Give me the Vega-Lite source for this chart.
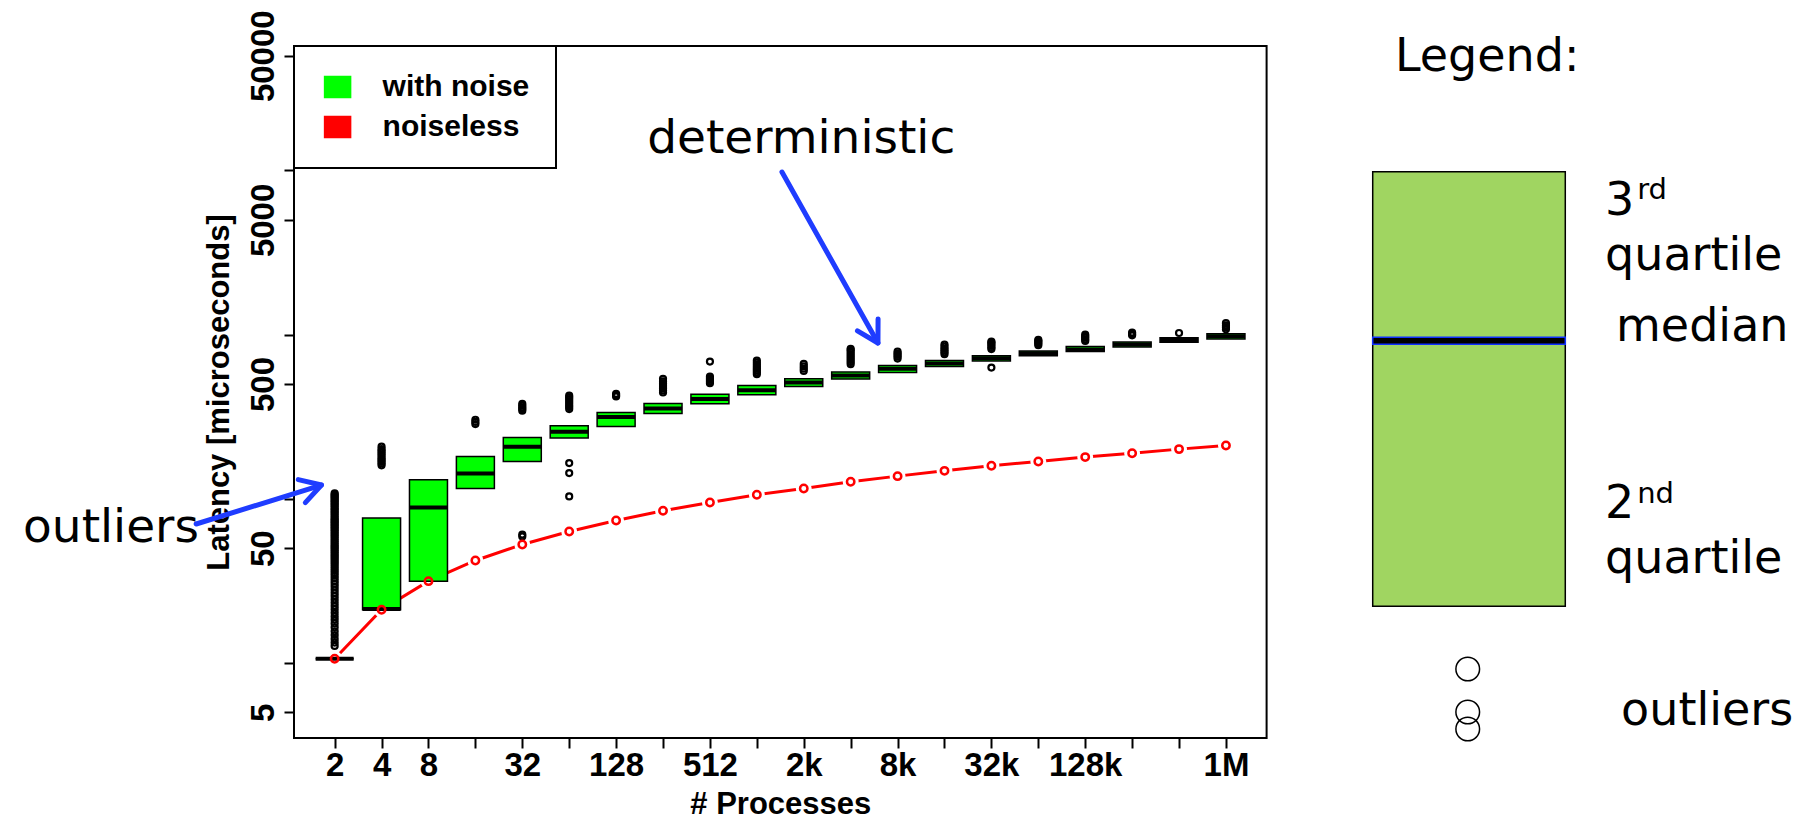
{
  "$schema": "https://vega.github.io/schema/vega-lite/v6.json",
  "width": 972.6,
  "height": 692,
  "autosize": {"type": "none"},
  "padding": {"left": 294, "top": 46, "right": 551.4, "bottom": 83},
  "background": "white",
  "config": {
    "view": {"stroke": "black", "strokeWidth": 2},
    "axis": {
      "domain": false, "grid": false, "ticks": true, "tickColor": "black", "tickSize": 10, "tickWidth": 2,
      "labelColor": "black", "labelFont": "Liberation Sans", "labelFontWeight": "bold", "labelFontSize": 33,
      "titleColor": "black", "titleFont": "Liberation Sans", "titleFontWeight": "bold", "titleFontSize": 31,
      "labelOverlap": false, "labelFlush": false, "labelBound": false
    }
  },
  "datasets": {
    "boxes": [
      {"procs": 2, "q1": 10.6, "median": 10.6, "q3": 10.6},
      {"procs": 4, "q1": 21.1, "median": 21.3, "q3": 76.3},
      {"procs": 8, "q1": 31.4, "median": 88.5, "q3": 130.6},
      {"procs": 16, "q1": 115.6, "median": 142.6, "q3": 181},
      {"procs": 32, "q1": 168.8, "median": 207.4, "q3": 236},
      {"procs": 64, "q1": 234.2, "median": 255.8, "q3": 278.3},
      {"procs": 128, "q1": 275.6, "median": 314.4, "q3": 335.4},
      {"procs": 256, "q1": 330.7, "median": 354.8, "q3": 380},
      {"procs": 512, "q1": 379, "median": 406, "q3": 434},
      {"procs": 1024, "q1": 430, "median": 459, "q3": 489.6},
      {"procs": 2048, "q1": 483, "median": 511, "q3": 538},
      {"procs": 4096, "q1": 536, "median": 563, "q3": 593},
      {"procs": 8192, "q1": 588, "median": 618.7, "q3": 648},
      {"procs": 16384, "q1": 639, "median": 668, "q3": 695},
      {"procs": 32768, "q1": 692, "median": 717, "q3": 742.6},
      {"procs": 65536, "q1": 743, "median": 769, "q3": 796},
      {"procs": 131072, "q1": 788, "median": 813, "q3": 845.5},
      {"procs": 262144, "q1": 842, "median": 872, "q3": 903},
      {"procs": 524288, "q1": 899, "median": 929, "q3": 955.6},
      {"procs": 1048576, "q1": 942, "median": 976, "q3": 1011}
    ],
    "noiseless": [
      {"procs": 2, "latency": 10.6}, {"procs": 4, "latency": 21.1}, {"procs": 8, "latency": 31.5},
      {"procs": 16, "latency": 42.1}, {"procs": 32, "latency": 52.7}, {"procs": 64, "latency": 63.2},
      {"procs": 128, "latency": 73.8}, {"procs": 256, "latency": 84.5}, {"procs": 512, "latency": 95},
      {"procs": 1024, "latency": 105.8}, {"procs": 2048, "latency": 115.6}, {"procs": 4096, "latency": 127},
      {"procs": 8192, "latency": 137.4}, {"procs": 16384, "latency": 148}, {"procs": 32768, "latency": 159},
      {"procs": 65536, "latency": 168.8}, {"procs": 131072, "latency": 179.4}, {"procs": 262144, "latency": 189.6},
      {"procs": 524288, "latency": 200.7}, {"procs": 1048576, "latency": 211}
    ],
    "outliers": [
      {"procs": 2, "latency": 108}, {"procs": 2, "latency": 106}, {"procs": 2, "latency": 104}, {"procs": 2, "latency": 102}, {"procs": 2, "latency": 100},
      {"procs": 2, "latency": 98}, {"procs": 2, "latency": 96}, {"procs": 2, "latency": 94}, {"procs": 2, "latency": 92}, {"procs": 2, "latency": 90},
      {"procs": 2, "latency": 88}, {"procs": 2, "latency": 86}, {"procs": 2, "latency": 84}, {"procs": 2, "latency": 82}, {"procs": 2, "latency": 80},
      {"procs": 2, "latency": 78}, {"procs": 2, "latency": 76}, {"procs": 2, "latency": 74.5}, {"procs": 2, "latency": 73}, {"procs": 2, "latency": 71.5},
      {"procs": 2, "latency": 70}, {"procs": 2, "latency": 68.5}, {"procs": 2, "latency": 67}, {"procs": 2, "latency": 65.5}, {"procs": 2, "latency": 64},
      {"procs": 2, "latency": 62.5}, {"procs": 2, "latency": 61}, {"procs": 2, "latency": 59.5}, {"procs": 2, "latency": 58}, {"procs": 2, "latency": 56.5},
      {"procs": 2, "latency": 55}, {"procs": 2, "latency": 53.5}, {"procs": 2, "latency": 52}, {"procs": 2, "latency": 50.8}, {"procs": 2, "latency": 49.6},
      {"procs": 2, "latency": 48.4}, {"procs": 2, "latency": 47.2}, {"procs": 2, "latency": 46}, {"procs": 2, "latency": 44.8}, {"procs": 2, "latency": 43.6},
      {"procs": 2, "latency": 42.4}, {"procs": 2, "latency": 41.2}, {"procs": 2, "latency": 40}, {"procs": 2, "latency": 38.8}, {"procs": 2, "latency": 37.6},
      {"procs": 2, "latency": 36.4}, {"procs": 2, "latency": 35.2}, {"procs": 2, "latency": 34}, {"procs": 2, "latency": 32.8}, {"procs": 2, "latency": 31.6},
      {"procs": 2, "latency": 30.4}, {"procs": 2, "latency": 29.2}, {"procs": 2, "latency": 28}, {"procs": 2, "latency": 26.8}, {"procs": 2, "latency": 25.6},
      {"procs": 2, "latency": 24.4}, {"procs": 2, "latency": 23.3}, {"procs": 2, "latency": 22.2}, {"procs": 2, "latency": 21.2}, {"procs": 2, "latency": 20.2},
      {"procs": 2, "latency": 19.2}, {"procs": 2, "latency": 18.3}, {"procs": 2, "latency": 17.4}, {"procs": 2, "latency": 16.5}, {"procs": 2, "latency": 15.6},
      {"procs": 2, "latency": 14.8}, {"procs": 2, "latency": 14}, {"procs": 2, "latency": 13.3}, {"procs": 2, "latency": 12.7},
      {"procs": 4, "latency": 160}, {"procs": 4, "latency": 164}, {"procs": 4, "latency": 168}, {"procs": 4, "latency": 172}, {"procs": 4, "latency": 176},
      {"procs": 4, "latency": 181}, {"procs": 4, "latency": 186}, {"procs": 4, "latency": 191}, {"procs": 4, "latency": 196}, {"procs": 4, "latency": 201},
      {"procs": 4, "latency": 208},
      {"procs": 16, "latency": 285}, {"procs": 16, "latency": 294}, {"procs": 16, "latency": 303},
      {"procs": 32, "latency": 344}, {"procs": 32, "latency": 352}, {"procs": 32, "latency": 360}, {"procs": 32, "latency": 369}, {"procs": 32, "latency": 379},
      {"procs": 32, "latency": 59}, {"procs": 32, "latency": 60.5},
      {"procs": 64, "latency": 352}, {"procs": 64, "latency": 362}, {"procs": 64, "latency": 372}, {"procs": 64, "latency": 383}, {"procs": 64, "latency": 394},
      {"procs": 64, "latency": 405}, {"procs": 64, "latency": 415}, {"procs": 64, "latency": 425},
      {"procs": 64, "latency": 103.3}, {"procs": 64, "latency": 143.4}, {"procs": 64, "latency": 165},
      {"procs": 128, "latency": 420}, {"procs": 128, "latency": 428}, {"procs": 128, "latency": 436},
      {"procs": 256, "latency": 444}, {"procs": 256, "latency": 456}, {"procs": 256, "latency": 468}, {"procs": 256, "latency": 480}, {"procs": 256, "latency": 493},
      {"procs": 256, "latency": 506}, {"procs": 256, "latency": 520}, {"procs": 256, "latency": 538},
      {"procs": 512, "latency": 506}, {"procs": 512, "latency": 518}, {"procs": 512, "latency": 530}, {"procs": 512, "latency": 543},
      {"procs": 512, "latency": 556}, {"procs": 512, "latency": 685},
      {"procs": 1024, "latency": 574}, {"procs": 1024, "latency": 590}, {"procs": 1024, "latency": 605}, {"procs": 1024, "latency": 620},
      {"procs": 1024, "latency": 637}, {"procs": 1024, "latency": 655}, {"procs": 1024, "latency": 675}, {"procs": 1024, "latency": 695},
      {"procs": 2048, "latency": 601}, {"procs": 2048, "latency": 620}, {"procs": 2048, "latency": 640}, {"procs": 2048, "latency": 663},
      {"procs": 4096, "latency": 661}, {"procs": 4096, "latency": 680}, {"procs": 4096, "latency": 700}, {"procs": 4096, "latency": 720},
      {"procs": 4096, "latency": 740}, {"procs": 4096, "latency": 762}, {"procs": 4096, "latency": 785}, {"procs": 4096, "latency": 805},
      {"procs": 4096, "latency": 819},
      {"procs": 8192, "latency": 715}, {"procs": 8192, "latency": 735}, {"procs": 8192, "latency": 752}, {"procs": 8192, "latency": 770},
      {"procs": 8192, "latency": 789},
      {"procs": 16384, "latency": 760}, {"procs": 16384, "latency": 780}, {"procs": 16384, "latency": 800}, {"procs": 16384, "latency": 820},
      {"procs": 16384, "latency": 845}, {"procs": 16384, "latency": 870},
      {"procs": 32768, "latency": 816}, {"procs": 32768, "latency": 835}, {"procs": 32768, "latency": 855}, {"procs": 32768, "latency": 876},
      {"procs": 32768, "latency": 895}, {"procs": 32768, "latency": 908}, {"procs": 32768, "latency": 630},
      {"procs": 65536, "latency": 863}, {"procs": 65536, "latency": 880}, {"procs": 65536, "latency": 900}, {"procs": 65536, "latency": 915},
      {"procs": 65536, "latency": 929},
      {"procs": 131072, "latency": 916}, {"procs": 131072, "latency": 935}, {"procs": 131072, "latency": 957}, {"procs": 131072, "latency": 978},
      {"procs": 131072, "latency": 1000},
      {"procs": 262144, "latency": 990}, {"procs": 262144, "latency": 1010}, {"procs": 262144, "latency": 1030},
      {"procs": 524288, "latency": 1023},
      {"procs": 1048576, "latency": 1078}, {"procs": 1048576, "latency": 1110}, {"procs": 1048576, "latency": 1140}, {"procs": 1048576, "latency": 1174}
    ],
    "arrows": [
      {"segment": "det-shaft", "seq": 1, "procs": 1484, "latency": 9787},
      {"segment": "det-shaft", "seq": 2, "procs": 6131, "latency": 889},
      {"segment": "det-head", "seq": 1, "procs": 6140, "latency": 1245},
      {"segment": "det-head", "seq": 2, "procs": 6131, "latency": 889},
      {"segment": "det-head", "seq": 3, "procs": 4529, "latency": 1055},
      {"segment": "out-shaft", "seq": 1, "procs": 0.2584, "latency": 70.2},
      {"segment": "out-shaft", "seq": 2, "procs": 1.6459, "latency": 121.3},
      {"segment": "out-head", "seq": 1, "procs": 1.169, "latency": 130.9},
      {"segment": "out-head", "seq": 2, "procs": 1.6459, "latency": 121.3},
      {"segment": "out-head", "seq": 3, "procs": 1.2968, "latency": 94.8}
    ],
    "notes": [
      {"note": "deterministic", "procs": 202.5, "latency": 12775},
      {"note": "outliers", "procs": 0.02003, "latency": 54.56}
    ],
    "legendShapes": [
      {"part": "box", "u1": 1.1091, "u2": 1.3071, "v1": 0.1903, "v2": 0.8184},
      {"part": "median", "u1": 1.1091, "u2": 1.3071, "v1": 0.5690, "v2": 0.5790}
    ],
    "legendText": [
      {"text": "Legend:", "u": 1.1320, "v": 0.9643, "kind": "main"},
      {"text": "3", "u": 1.3480, "v": 0.7562, "kind": "main"},
      {"text": "rd", "u": 1.3810, "v": 0.7789, "kind": "sup"},
      {"text": "quartile", "u": 1.3480, "v": 0.6769, "kind": "main"},
      {"text": "median", "u": 1.3593, "v": 0.5731, "kind": "main"},
      {"text": "2", "u": 1.3480, "v": 0.3179, "kind": "main"},
      {"text": "nd", "u": 1.3810, "v": 0.3402, "kind": "sup"},
      {"text": "quartile", "u": 1.3480, "v": 0.2380, "kind": "main"},
      {"text": "outliers", "u": 1.3645, "v": 0.01879, "kind": "main"}
    ],
    "legendDots": [
      {"u": 1.2068, "v": 0.0997}, {"u": 1.2068, "v": 0.0376}, {"u": 1.2068, "v": 0.0130}
    ]
  },
  "layer": [
    {
      "layer": [
        {
          "data": {"name": "noiseless"},
          "mark": {"type": "line", "strokeWidth": 3},
          "encoding": {
            "x": {"field": "procs", "type": "quantitative",
              "scale": {"type": "log", "base": 2, "domain": [1.18099, 1775700], "nice": false},
              "axis": {"title": "# Processes",
                "values": [2, 4, 8, 16, 32, 64, 128, 256, 512, 1024, 2048, 4096, 8192, 16384, 32768, 65536, 131072, 262144, 524288, 1048576],
                "labelExpr": "indexof([16,64,256,1024,4096,16384,65536,262144,524288], datum.value) >= 0 ? '' : (datum.value >= 1048576 ? '1M' : (datum.value >= 1024 ? (datum.value / 1024) + 'k' : '' + datum.value))",
                "labelPadding": 1, "titleX": 486.3, "titleY": 75.3, "titleAlign": "center", "titleBaseline": "alphabetic", "titleAngle": 0}},
            "y": {"field": "latency", "type": "quantitative",
              "scale": {"type": "log", "domain": [3.4896, 57310], "nice": false},
              "axis": {"title": "Latency [microseconds]",
                "values": [5, 10, 50, 100, 500, 1000, 5000, 10000, 50000], "format": "d",
                "labelExpr": "indexof([5,50,500,5000,50000], datum.value) >= 0 ? datum.label : ''",
                "labelAngle": 270, "labelAlign": "center", "labelBaseline": "alphabetic", "labelPadding": 11,
                "titleAngle": 270, "titleX": -66, "titleY": 346, "titleAlign": "center", "titleBaseline": "alphabetic"}},
            "color": {"datum": "noiseless", "type": "nominal",
              "scale": {"domain": ["with noise", "noiseless"], "range": ["#00ff00", "#ff0000"]},
              "legend": {"title": null, "orient": "top-left", "offset": 0, "padding": 26, "rowPadding": 10,
                "fillColor": "white", "strokeColor": "black",
                "symbolType": "M-1.25,-1H1.25V1H-1.25Z", "symbolSize": 433, "symbolOffset": 2.6,
                "symbolStrokeColor": "black", "symbolStrokeWidth": 1.5, "labelOffset": 30,
                "labelFont": "Liberation Sans", "labelFontWeight": "bold", "labelFontSize": 30, "labelColor": "black", "labelLimit": 400,
                "encode": {
                  "legend": {"update": {"strokeWidth": {"value": 2}}},
                  "symbols": {"update": {"fill": {"scale": "color", "field": "value"}, "stroke": {"value": "black"}, "strokeWidth": {"value": 1.5}, "opacity": {"value": 1}}}}}}
          }
        },
        {
          "data": {"name": "noiseless"},
          "mark": {"type": "point", "shape": "circle", "filled": true, "color": "white", "size": 254, "opacity": 1, "strokeWidth": 0},
          "encoding": {
            "x": {"field": "procs", "type": "quantitative", "scale": {"type": "log", "base": 2, "domain": [1.18099, 1775700], "nice": false}},
            "y": {"field": "latency", "type": "quantitative", "scale": {"type": "log", "domain": [3.4896, 57310], "nice": false}}
          }
        },
        {
          "data": {"name": "boxes"},
          "mark": {"type": "bar", "width": 38, "stroke": "black", "strokeWidth": 1.5, "opacity": 1},
          "encoding": {
            "x": {"field": "procs", "type": "quantitative", "scale": {"type": "log", "base": 2, "domain": [1.18099, 1775700], "nice": false}},
            "y": {"field": "q1", "type": "quantitative", "scale": {"type": "log", "domain": [3.4896, 57310], "nice": false}},
            "y2": {"field": "q3"},
            "color": {"datum": "with noise", "type": "nominal"}
          }
        },
        {
          "data": {"name": "boxes"},
          "mark": {"type": "tick", "orient": "horizontal", "size": 38, "thickness": 4, "color": "black", "opacity": 1},
          "encoding": {
            "x": {"field": "procs", "type": "quantitative", "scale": {"type": "log", "base": 2, "domain": [1.18099, 1775700], "nice": false}},
            "y": {"field": "median", "type": "quantitative", "scale": {"type": "log", "domain": [3.4896, 57310], "nice": false}}
          }
        },
        {
          "data": {"name": "outliers"},
          "mark": {"type": "point", "shape": "circle", "filled": false, "color": "black", "size": 36, "strokeWidth": 2.2, "opacity": 1},
          "encoding": {
            "x": {"field": "procs", "type": "quantitative", "scale": {"type": "log", "base": 2, "domain": [1.18099, 1775700], "nice": false}},
            "y": {"field": "latency", "type": "quantitative", "scale": {"type": "log", "domain": [3.4896, 57310], "nice": false}}
          }
        },
        {
          "data": {"name": "noiseless"},
          "mark": {"type": "point", "shape": "circle", "filled": false, "size": 55, "strokeWidth": 2.5, "opacity": 1},
          "encoding": {
            "x": {"field": "procs", "type": "quantitative", "scale": {"type": "log", "base": 2, "domain": [1.18099, 1775700], "nice": false}},
            "y": {"field": "latency", "type": "quantitative", "scale": {"type": "log", "domain": [3.4896, 57310], "nice": false}},
            "color": {"datum": "noiseless", "type": "nominal"}
          }
        },
        {
          "data": {"name": "arrows"},
          "mark": {"type": "line", "color": "#1f3cff", "strokeWidth": 5, "strokeCap": "round", "strokeJoin": "round"},
          "encoding": {
            "x": {"field": "procs", "type": "quantitative", "scale": {"type": "log", "base": 2, "domain": [1.18099, 1775700], "nice": false}},
            "y": {"field": "latency", "type": "quantitative", "scale": {"type": "log", "domain": [3.4896, 57310], "nice": false}},
            "detail": {"field": "segment"},
            "order": {"field": "seq", "type": "quantitative"}
          }
        },
        {
          "data": {"name": "notes"},
          "mark": {"type": "text", "align": "left", "baseline": "alphabetic", "font": "DejaVu Sans", "fontSize": 47, "color": "black"},
          "encoding": {
            "x": {"field": "procs", "type": "quantitative", "scale": {"type": "log", "base": 2, "domain": [1.18099, 1775700], "nice": false}},
            "y": {"field": "latency", "type": "quantitative", "scale": {"type": "log", "domain": [3.4896, 57310], "nice": false}},
            "text": {"field": "note"}
          }
        }
      ]
    },
    {
      "layer": [
        {
          "data": {"name": "legendShapes"},
          "transform": [{"filter": "datum.part == 'box'"}],
          "mark": {"type": "rect", "fill": "#a0d561", "stroke": "black", "strokeWidth": 1.5},
          "encoding": {
            "x": {"field": "u1", "type": "quantitative", "scale": {"domain": [0, 1], "nice": false, "zero": false}, "axis": null},
            "x2": {"field": "u2"},
            "y": {"field": "v1", "type": "quantitative", "scale": {"domain": [0, 1], "nice": false, "zero": false}, "axis": null},
            "y2": {"field": "v2"}
          }
        },
        {
          "data": {"name": "legendShapes"},
          "transform": [{"filter": "datum.part == 'median'"}],
          "mark": {"type": "rect", "fill": "black", "stroke": "#1030ff", "strokeWidth": 1.5},
          "encoding": {
            "x": {"field": "u1", "type": "quantitative", "scale": {"domain": [0, 1], "nice": false, "zero": false}, "axis": null},
            "x2": {"field": "u2"},
            "y": {"field": "v1", "type": "quantitative", "scale": {"domain": [0, 1], "nice": false, "zero": false}, "axis": null},
            "y2": {"field": "v2"}
          }
        },
        {
          "data": {"name": "legendDots"},
          "mark": {"type": "point", "shape": "circle", "filled": false, "color": "black", "size": 560, "strokeWidth": 1.5, "opacity": 1},
          "encoding": {
            "x": {"field": "u", "type": "quantitative", "scale": {"domain": [0, 1], "nice": false, "zero": false}, "axis": null},
            "y": {"field": "v", "type": "quantitative", "scale": {"domain": [0, 1], "nice": false, "zero": false}, "axis": null}
          }
        },
        {
          "data": {"name": "legendText"},
          "transform": [{"filter": "datum.kind == 'main'"}],
          "mark": {"type": "text", "align": "left", "baseline": "alphabetic", "font": "DejaVu Sans", "fontSize": 46, "color": "black"},
          "encoding": {
            "x": {"field": "u", "type": "quantitative", "scale": {"domain": [0, 1], "nice": false, "zero": false}, "axis": null},
            "y": {"field": "v", "type": "quantitative", "scale": {"domain": [0, 1], "nice": false, "zero": false}, "axis": null},
            "text": {"field": "text"}
          }
        },
        {
          "data": {"name": "legendText"},
          "transform": [{"filter": "datum.kind == 'sup'"}],
          "mark": {"type": "text", "align": "left", "baseline": "alphabetic", "font": "DejaVu Sans", "fontSize": 29, "color": "black"},
          "encoding": {
            "x": {"field": "u", "type": "quantitative", "scale": {"domain": [0, 1], "nice": false, "zero": false}, "axis": null},
            "y": {"field": "v", "type": "quantitative", "scale": {"domain": [0, 1], "nice": false, "zero": false}, "axis": null},
            "text": {"field": "text"}
          }
        }
      ]
    }
  ],
  "resolve": {"scale": {"x": "independent", "y": "independent"}}
}
